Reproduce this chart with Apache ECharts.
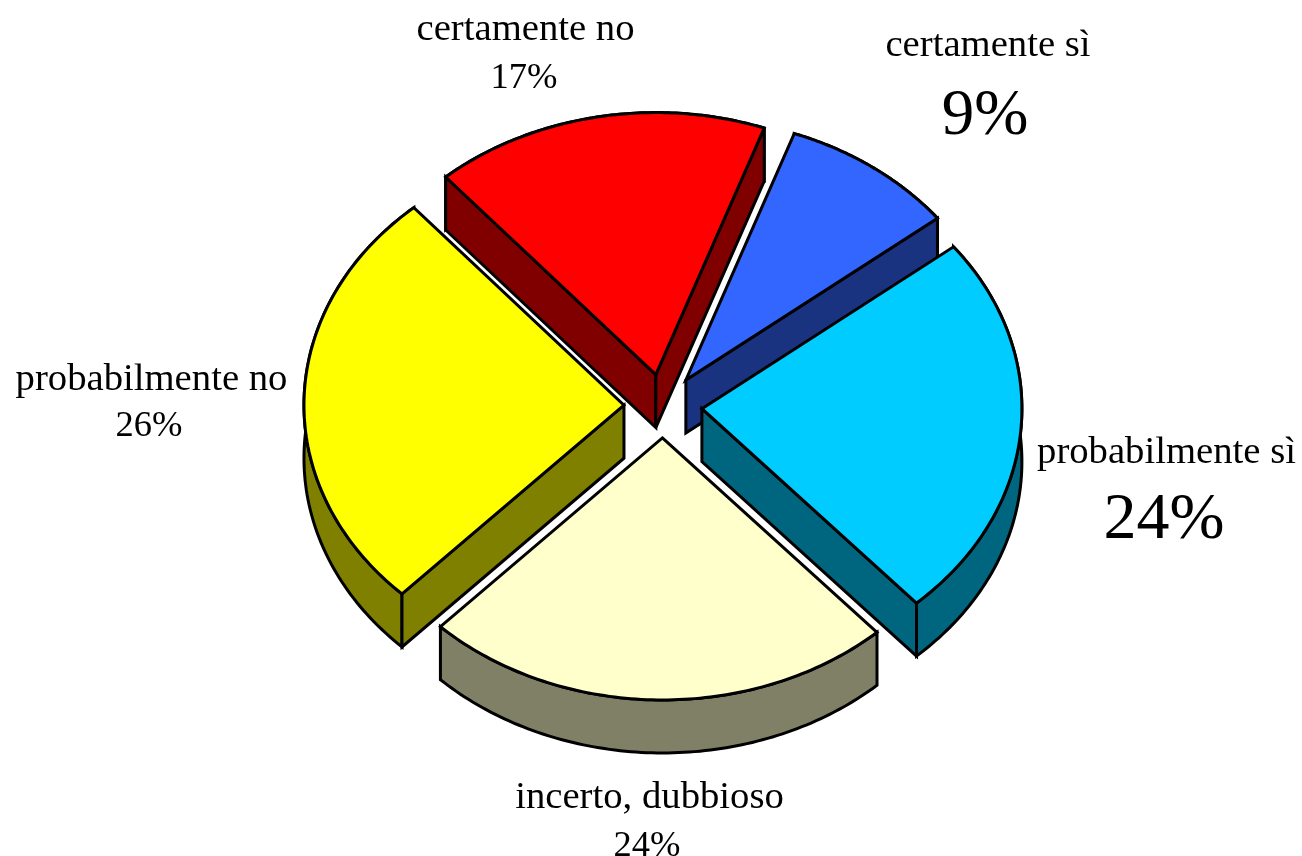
<!DOCTYPE html>
<html><head><meta charset="utf-8">
<style>html,body{margin:0;padding:0;background:#fff}#c{width:1302px;height:856px}</style>
<script src="https://cdn.jsdelivr.net/npm/echarts@6/dist/echarts.min.js"></script>
</head><body><div id="c"></div>
<script>
// Data (clockwise from the top)
var categories = ['certamente sì', 'probabilmente sì', 'incerto, dubbioso', 'probabilmente no', 'certamente no'];
var shares = [8.9, 23.9, 23.9, 26.4, 16.9];
var percentLabels = ['9%', '24%', '24%', '26%', '17%'];
// Styles
var topColors = ['#3366FF', '#00CCFF', '#FFFFCC', '#FFFF00', '#FF0000'];
var sideColors = ['#1A3380', '#006680', '#808066', '#808000', '#800000'];
var drawRank = [1, 3, 4, 2, 0];
var labelAnchors = [[988, 46], [1166.5, 453], [649.5, 798], [151.5, 380], [525.5, 30]];
var percentAnchors = [[985, 117], [1164, 521], [647, 846], [149, 426], [524, 78]];
var percentSizes = [65, 66, 36.5, 36.5, 36.5];
// 3D pie layout
var pie = {cx: 663, cy: 406, rx: 320, ry: 262, depth: 53, explode: 0.122, startDeg: 70.2};

var total = shares.reduce(function (a, b) { return a + b; }, 0);
var toSweep = function (v) { return echarts.number.linearMap(v, [0, total], [0, Math.PI * 2]); };
var cumulative = [];
shares.reduce(function (acc, v, i) { cumulative[i] = acc; return acc + v; }, 0);

function renderSlice(params, api) {
  var i = params.dataIndex;
  var a0 = pie.startDeg * Math.PI / 180 - toSweep(api.value(1));
  var a1 = a0 - toSweep(api.value(0));
  var mid = (a0 + a1) / 2;
  var ox = pie.cx + pie.rx * pie.explode * Math.cos(mid);
  var oy = pie.cy - pie.ry * pie.explode * Math.sin(mid);
  var pt = function (a) { return [ox + pie.rx * Math.cos(a), oy - pie.ry * Math.sin(a)]; };
  var arc = [], N = 90, k;
  for (k = 0; k <= N; k++) arc.push(pt(a0 + (a1 - a0) * k / N));
  var arcLow = arc.map(function (p) { return [p[0], p[1] + pie.depth]; }).reverse();
  var apex = [ox, oy], apexLow = [ox, oy + pie.depth];
  var z = drawRank[i] * 10;
  var face = function (points, fill, dz) {
    return {type: 'polygon', z2: z + dz, shape: {points: points},
      style: {fill: fill, stroke: '#000', lineWidth: 3, lineJoin: 'miter', miterLimit: 4}};
  };
  var side = sideColors[i];
  var children = [face(arc.concat(arcLow), side, 1)];
  if (Math.cos(a0) < 0) children.push(face([apex, arc[0], arcLow[N], apexLow], side, 2));
  if (Math.cos(a1) > 0) children.push(face([apex, arc[N], arcLow[0], apexLow], side, 2));
  children.push(face([apex].concat(arc), topColors[i], 3));
  children.push({type: 'text', z2: 100, style: {x: labelAnchors[i][0], y: labelAnchors[i][1], text: categories[i],
    fill: '#000', font: '38.7px "Liberation Serif"', align: 'center', verticalAlign: 'middle'}});
  children.push({type: 'text', z2: 100, style: {x: percentAnchors[i][0], y: percentAnchors[i][1], text: percentLabels[i],
    fill: '#000', font: percentSizes[i] + 'px "Liberation Serif"', align: 'center', verticalAlign: 'middle'}});
  return {type: 'group', children: children};
}

var chart = echarts.init(document.getElementById('c'), null, {renderer: 'canvas'});
chart.setOption({
  animation: false,
  backgroundColor: '#fff',
  series: [{
    type: 'custom',
    coordinateSystem: 'none',
    renderItem: renderSlice,
    data: shares.map(function (v, i) { return {name: categories[i], value: [v, cumulative[i]]}; })
  }]
});
</script></body></html>
